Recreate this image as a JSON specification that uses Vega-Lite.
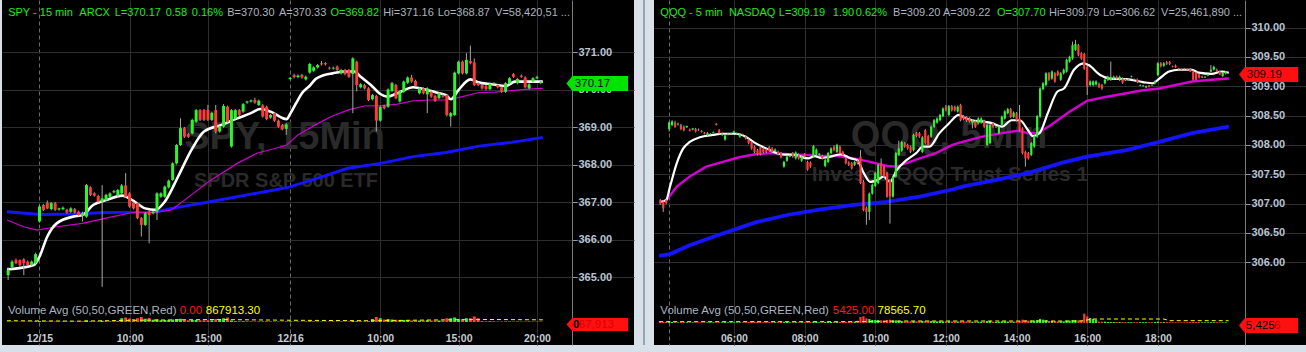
{
"$schema":"https://vega.github.io/schema/vega-lite/v6.json",
"background":"#d8e1ea",
"padding":{"left":0,"top":0,"right":0,"bottom":7},
"spacing":9.5,
"bounds":"flush",
"config":{"view":{"fill":"#000000","stroke":null},"text":{"font":"Liberation Sans"},"axis":{"labelFont":"Liberation Sans"}},
"datasets":{
"spy":[
{"i":-8,"o":365.05,"h":365.26,"l":364.92,"c":365.19,"v":150},
{"i":-7,"o":365.26,"h":365.45,"l":365.23,"c":365.41,"v":150},
{"i":-6,"o":365.45,"h":365.49,"l":365.34,"c":365.37,"v":150},
{"i":-5,"o":365.45,"h":365.47,"l":365.28,"c":365.32,"v":150},
{"i":-4,"o":365.47,"h":365.5,"l":365.05,"c":365.37,"v":200},
{"i":-3,"o":365.41,"h":365.44,"l":365.29,"c":365.32,"v":150},
{"i":-2,"o":365.32,"h":365.44,"l":365.29,"c":365.41,"v":150},
{"i":-1,"o":365.37,"h":365.65,"l":365.34,"c":365.61,"v":200},
{"i":0,"o":366.48,"h":366.92,"l":366.45,"c":366.88,"v":400},
{"i":1,"o":366.92,"h":366.95,"l":366.76,"c":366.79,"v":250},
{"i":2,"o":366.98,"h":367.04,"l":366.81,"c":366.83,"v":250},
{"i":3,"o":366.81,"h":367.0,"l":366.78,"c":366.97,"v":200},
{"i":4,"o":366.97,"h":367.0,"l":366.76,"c":366.79,"v":200},
{"i":5,"o":366.8,"h":366.85,"l":366.77,"c":366.83,"v":150},
{"i":6,"o":366.81,"h":366.88,"l":366.78,"c":366.85,"v":150},
{"i":7,"o":366.79,"h":366.82,"l":366.69,"c":366.72,"v":150},
{"i":8,"o":366.74,"h":366.86,"l":366.71,"c":366.83,"v":150},
{"i":9,"o":366.81,"h":366.84,"l":366.69,"c":366.72,"v":150},
{"i":10,"o":366.74,"h":366.77,"l":366.62,"c":366.65,"v":200},
{"i":11,"o":366.63,"h":366.74,"l":366.48,"c":366.71,"v":200},
{"i":12,"o":366.61,"h":367.48,"l":366.58,"c":367.45,"v":600},
{"i":13,"o":367.39,"h":367.42,"l":367.16,"c":367.19,"v":300},
{"i":14,"o":367.23,"h":367.26,"l":367.14,"c":367.17,"v":250},
{"i":15,"o":367.16,"h":367.19,"l":366.98,"c":367.01,"v":250},
{"i":16,"o":367.01,"h":367.45,"l":364.74,"c":367.1,"v":500},
{"i":17,"o":367.05,"h":367.22,"l":367.02,"c":367.19,"v":250},
{"i":18,"o":367.14,"h":367.26,"l":367.11,"c":367.23,"v":250},
{"i":19,"o":367.26,"h":367.32,"l":367.23,"c":367.29,"v":250},
{"i":20,"o":367.17,"h":367.35,"l":367.14,"c":367.32,"v":300},
{"i":21,"o":367.23,"h":367.48,"l":367.2,"c":367.44,"v":1500},
{"i":22,"o":367.44,"h":367.77,"l":367.11,"c":367.14,"v":1800},
{"i":23,"o":367.23,"h":367.26,"l":366.85,"c":366.88,"v":1400},
{"i":24,"o":366.98,"h":367.01,"l":366.8,"c":366.83,"v":1200},
{"i":25,"o":366.97,"h":367.0,"l":366.54,"c":366.57,"v":1500},
{"i":26,"o":366.57,"h":366.6,"l":366.08,"c":366.39,"v":2000},
{"i":27,"o":366.39,"h":366.73,"l":366.36,"c":366.7,"v":1300},
{"i":28,"o":366.74,"h":366.77,"l":365.9,"c":366.65,"v":1600},
{"i":29,"o":366.7,"h":366.77,"l":366.67,"c":366.74,"v":900},
{"i":30,"o":366.74,"h":367.26,"l":366.52,"c":367.23,"v":1100},
{"i":31,"o":367.14,"h":367.26,"l":367.11,"c":367.23,"v":700},
{"i":32,"o":367.14,"h":367.44,"l":367.11,"c":367.41,"v":800},
{"i":33,"o":367.39,"h":367.6,"l":367.36,"c":367.57,"v":800},
{"i":34,"o":367.59,"h":368.06,"l":367.56,"c":368.03,"v":1000},
{"i":35,"o":368.03,"h":368.55,"l":368.0,"c":368.52,"v":1100},
{"i":36,"o":368.52,"h":369.23,"l":368.49,"c":368.97,"v":1300},
{"i":37,"o":368.97,"h":369.0,"l":368.71,"c":368.74,"v":900},
{"i":38,"o":368.81,"h":368.84,"l":368.71,"c":368.74,"v":700},
{"i":39,"o":368.83,"h":369.22,"l":368.8,"c":369.19,"v":800},
{"i":40,"o":369.14,"h":369.48,"l":369.11,"c":369.45,"v":800},
{"i":41,"o":369.45,"h":369.48,"l":369.16,"c":369.19,"v":700},
{"i":42,"o":369.45,"h":369.48,"l":369.16,"c":369.19,"v":700},
{"i":43,"o":369.45,"h":369.59,"l":369.16,"c":369.19,"v":700},
{"i":44,"o":369.19,"h":369.41,"l":369.16,"c":369.38,"v":700},
{"i":45,"o":369.45,"h":369.59,"l":368.83,"c":368.88,"v":1200},
{"i":46,"o":368.88,"h":369.04,"l":368.85,"c":369.01,"v":1000},
{"i":47,"o":369.01,"h":369.61,"l":368.98,"c":369.56,"v":1500},
{"i":48,"o":369.54,"h":369.57,"l":369.11,"c":369.14,"v":1800},
{"i":49,"o":368.48,"h":369.48,"l":368.45,"c":369.45,"v":600},
{"i":50,"o":369.23,"h":369.48,"l":369.2,"c":369.45,"v":300},
{"i":51,"o":369.45,"h":369.48,"l":369.29,"c":369.32,"v":300},
{"i":52,"o":369.41,"h":369.64,"l":369.38,"c":369.61,"v":300},
{"i":53,"o":369.65,"h":369.7,"l":369.62,"c":369.68,"v":200},
{"i":54,"o":369.68,"h":369.73,"l":369.65,"c":369.71,"v":200},
{"i":55,"o":369.72,"h":369.78,"l":369.62,"c":369.65,"v":200},
{"i":56,"o":369.59,"h":369.73,"l":369.56,"c":369.7,"v":200},
{"i":57,"o":369.58,"h":369.61,"l":369.25,"c":369.28,"v":300},
{"i":58,"o":369.54,"h":369.57,"l":369.18,"c":369.21,"v":300},
{"i":59,"o":369.25,"h":369.35,"l":369.22,"c":369.32,"v":200},
{"i":60,"o":369.37,"h":369.4,"l":369.14,"c":369.17,"v":200},
{"i":61,"o":369.17,"h":369.2,"l":368.98,"c":369.01,"v":200},
{"i":62,"o":369.05,"h":369.08,"l":368.91,"c":368.94,"v":200},
{"i":63,"o":368.95,"h":369.1,"l":368.79,"c":369.07,"v":200},
{"i":64,"o":370.28,"h":370.33,"l":370.26,"c":370.31,"v":300},
{"i":65,"o":370.39,"h":370.42,"l":370.3,"c":370.33,"v":200},
{"i":66,"o":370.33,"h":370.4,"l":370.3,"c":370.37,"v":200},
{"i":67,"o":370.39,"h":370.42,"l":370.29,"c":370.32,"v":200},
{"i":68,"o":370.27,"h":370.37,"l":370.24,"c":370.34,"v":200},
{"i":69,"o":370.45,"h":370.71,"l":370.42,"c":370.68,"v":300},
{"i":70,"o":370.5,"h":370.62,"l":370.47,"c":370.59,"v":200},
{"i":71,"o":370.59,"h":370.68,"l":370.56,"c":370.65,"v":200},
{"i":72,"o":370.7,"h":370.76,"l":370.64,"c":370.67,"v":200},
{"i":73,"o":370.7,"h":370.73,"l":370.64,"c":370.67,"v":200},
{"i":74,"o":370.58,"h":370.61,"l":370.53,"c":370.56,"v":200},
{"i":75,"o":370.56,"h":370.61,"l":370.53,"c":370.58,"v":200},
{"i":76,"o":370.61,"h":370.64,"l":370.49,"c":370.52,"v":200},
{"i":77,"o":370.43,"h":370.55,"l":370.4,"c":370.52,"v":200},
{"i":78,"o":370.52,"h":370.55,"l":370.38,"c":370.41,"v":200},
{"i":79,"o":370.52,"h":370.55,"l":370.31,"c":370.34,"v":250},
{"i":80,"o":370.41,"h":370.86,"l":369.37,"c":370.83,"v":400},
{"i":81,"o":370.74,"h":370.77,"l":369.95,"c":370.12,"v":400},
{"i":82,"o":370.06,"h":370.17,"l":370.03,"c":370.14,"v":250},
{"i":83,"o":370.12,"h":370.15,"l":370.0,"c":370.03,"v":250},
{"i":84,"o":370.03,"h":370.06,"l":369.69,"c":369.72,"v":400},
{"i":85,"o":369.74,"h":369.88,"l":369.71,"c":369.85,"v":1200},
{"i":86,"o":369.83,"h":369.86,"l":368.88,"c":369.17,"v":2000},
{"i":87,"o":369.17,"h":369.57,"l":369.14,"c":369.54,"v":1500},
{"i":88,"o":369.56,"h":369.59,"l":369.47,"c":369.5,"v":1000},
{"i":89,"o":369.54,"h":370.03,"l":369.51,"c":370.0,"v":1200},
{"i":90,"o":369.96,"h":370.2,"l":369.93,"c":370.17,"v":1000},
{"i":91,"o":370.12,"h":370.15,"l":369.74,"c":369.77,"v":900},
{"i":92,"o":369.68,"h":369.99,"l":369.65,"c":369.96,"v":800},
{"i":93,"o":369.94,"h":370.24,"l":369.91,"c":370.21,"v":800},
{"i":94,"o":370.18,"h":370.35,"l":370.15,"c":370.32,"v":700},
{"i":95,"o":370.32,"h":370.39,"l":370.18,"c":370.21,"v":600},
{"i":96,"o":370.23,"h":370.26,"l":370.07,"c":370.1,"v":600},
{"i":97,"o":369.9,"h":370.06,"l":369.87,"c":370.03,"v":600},
{"i":98,"o":370.03,"h":370.06,"l":369.87,"c":369.9,"v":600},
{"i":99,"o":369.87,"h":370.06,"l":369.37,"c":370.03,"v":700},
{"i":100,"o":369.94,"h":369.97,"l":369.78,"c":369.81,"v":600},
{"i":101,"o":369.83,"h":369.86,"l":369.67,"c":369.7,"v":600},
{"i":102,"o":369.77,"h":369.93,"l":369.74,"c":369.9,"v":600},
{"i":103,"o":369.85,"h":369.88,"l":369.78,"c":369.81,"v":600},
{"i":104,"o":369.85,"h":369.88,"l":369.28,"c":369.32,"v":1500},
{"i":105,"o":369.28,"h":369.4,"l":369.01,"c":369.37,"v":1500},
{"i":106,"o":369.32,"h":370.48,"l":369.29,"c":370.45,"v":1800},
{"i":107,"o":370.43,"h":370.77,"l":370.4,"c":370.74,"v":1200},
{"i":108,"o":370.74,"h":370.77,"l":370.4,"c":370.43,"v":1200},
{"i":109,"o":370.43,"h":370.97,"l":370.4,"c":370.79,"v":1500},
{"i":110,"o":370.76,"h":371.17,"l":370.67,"c":370.7,"v":1500},
{"i":111,"o":370.72,"h":370.83,"l":370.09,"c":370.12,"v":2200},
{"i":112,"o":370.17,"h":370.2,"l":370.09,"c":370.12,"v":1500},
{"i":113,"o":370.12,"h":370.15,"l":370.0,"c":370.03,"v":400},
{"i":114,"o":370.09,"h":370.12,"l":369.98,"c":370.01,"v":300},
{"i":115,"o":370.01,"h":370.18,"l":369.98,"c":370.15,"v":300},
{"i":116,"o":370.15,"h":370.19,"l":370.13,"c":370.18,"v":200},
{"i":117,"o":370.12,"h":370.15,"l":370.03,"c":370.06,"v":200},
{"i":118,"o":370.06,"h":370.09,"l":369.91,"c":369.94,"v":200},
{"i":119,"o":369.94,"h":370.2,"l":369.91,"c":370.17,"v":200},
{"i":120,"o":370.17,"h":370.33,"l":370.14,"c":370.3,"v":200},
{"i":121,"o":370.41,"h":370.44,"l":370.31,"c":370.34,"v":200},
{"i":122,"o":370.17,"h":370.31,"l":370.14,"c":370.28,"v":200},
{"i":123,"o":370.37,"h":370.4,"l":370.31,"c":370.34,"v":200},
{"i":124,"o":370.32,"h":370.35,"l":370.03,"c":370.06,"v":200},
{"i":125,"o":370.03,"h":370.17,"l":370.0,"c":370.14,"v":200},
{"i":126,"o":370.21,"h":370.33,"l":370.18,"c":370.3,"v":150},
{"i":127,"o":370.3,"h":370.37,"l":370.28,"c":370.33,"v":150},
{"i":128,"o":370.17,"h":370.24,"l":370.14,"c":370.21,"v":150}
],
"spyW":[
{"i":-8.3,"p":365.2},{"i":-1.4,"p":365.32},{"i":0,"p":365.54},{"i":2,"p":366.08},{"i":4.4,"p":366.43},{"i":8.6,"p":366.61},{"i":11,"p":366.65},{"i":13.7,"p":366.92},{"i":17,"p":367.05},{"i":21.2,"p":367.17},{"i":23.7,"p":367.05},{"i":27,"p":366.83},{"i":29.6,"p":366.79},{"i":32,"p":367.01},{"i":35.4,"p":367.68},{"i":38.8,"p":368.39},{"i":42,"p":368.88},{"i":46.3,"p":369.05},{"i":50.5,"p":369.23},{"i":54,"p":369.37},{"i":56.4,"p":369.48},{"i":59,"p":369.41},{"i":63.1,"p":369.21},{"i":64,"p":369.35},{"i":65.6,"p":369.65},{"i":67,"p":369.9},{"i":69,"p":370.1},{"i":70.5,"p":370.28},{"i":72.5,"p":370.38},{"i":74.8,"p":370.43},{"i":78,"p":370.48},{"i":80.4,"p":370.48},{"i":82,"p":370.34},{"i":84.6,"p":370.12},{"i":87,"p":369.88},{"i":88.8,"p":369.81},{"i":91.4,"p":369.9},{"i":95.4,"p":370.06},{"i":98.8,"p":369.99},{"i":101.3,"p":369.92},{"i":103.8,"p":369.85},{"i":105,"p":369.74},{"i":107,"p":369.99},{"i":110,"p":370.27},{"i":112,"p":370.19},{"i":115.5,"p":370.14},{"i":119,"p":370.09},{"i":121.4,"p":370.21},{"i":124.7,"p":370.21},{"i":128.5,"p":370.21}
],
"spyM":[
{"i":-8.3,"p":366.52},{"i":-4,"p":366.34},{"i":-0.6,"p":366.25},{"i":4.4,"p":366.34},{"i":11,"p":366.43},{"i":17,"p":366.57},{"i":23.7,"p":366.72},{"i":29.6,"p":366.72},{"i":33.7,"p":366.79},{"i":38.8,"p":367.19},{"i":43.8,"p":367.59},{"i":50.5,"p":368.03},{"i":55.5,"p":368.3},{"i":62,"p":368.48},{"i":63.1,"p":368.52},{"i":66,"p":368.79},{"i":70.3,"p":369.05},{"i":74.5,"p":369.28},{"i":78.7,"p":369.45},{"i":82.9,"p":369.56},{"i":87.1,"p":369.57},{"i":91.4,"p":369.61},{"i":95.4,"p":369.7},{"i":99.6,"p":369.72},{"i":103.8,"p":369.72},{"i":108,"p":369.81},{"i":112.2,"p":369.92},{"i":116.3,"p":369.93},{"i":120.5,"p":369.97},{"i":124.7,"p":370.01},{"i":128.5,"p":370.03}
],
"spyB":[
{"i":-8.3,"p":366.74},{"i":0.3,"p":366.67},{"i":8.6,"p":366.68},{"i":17,"p":366.72},{"i":29.6,"p":366.73},{"i":33.7,"p":366.83},{"i":42.1,"p":366.98},{"i":50.5,"p":367.14},{"i":58.9,"p":367.3},{"i":63.5,"p":367.39},{"i":70.3,"p":367.61},{"i":78.7,"p":367.9},{"i":87.1,"p":368.03},{"i":95.4,"p":368.21},{"i":103.8,"p":368.32},{"i":112.2,"p":368.49},{"i":120.5,"p":368.59},{"i":128.5,"p":368.72}
],
"spyVA":[
{"i":-8.3,"a":500},{"i":10,"a":350},{"i":25,"a":700},{"i":45,"a":1000},{"i":64,"a":700},{"i":85,"a":500},{"i":100,"a":800},{"i":115,"a":1000},{"i":128.5,"a":868}
],
"qqq":[
{"i":-3,"o":307.06,"h":307.08,"l":306.98,"c":307.0,"v":30},
{"i":-2,"o":307.03,"h":307.06,"l":306.86,"c":306.92,"v":30},
{"i":-1,"o":307.06,"h":307.08,"l":306.99,"c":307.01,"v":30},
{"i":0,"o":308.27,"h":308.4,"l":308.23,"c":308.38,"v":60},
{"i":1,"o":308.34,"h":308.42,"l":308.32,"c":308.4,"v":30},
{"i":2,"o":308.38,"h":308.41,"l":308.29,"c":308.31,"v":25},
{"i":3,"o":308.35,"h":308.38,"l":308.33,"c":308.36,"v":20},
{"i":4,"o":308.34,"h":308.36,"l":308.25,"c":308.27,"v":25},
{"i":5,"o":308.31,"h":308.33,"l":308.23,"c":308.25,"v":25},
{"i":6,"o":308.3,"h":308.33,"l":308.29,"c":308.32,"v":20},
{"i":7,"o":308.26,"h":308.28,"l":308.23,"c":308.24,"v":20},
{"i":8,"o":308.26,"h":308.29,"l":308.25,"c":308.28,"v":20},
{"i":9,"o":308.27,"h":308.29,"l":308.21,"c":308.23,"v":20},
{"i":10,"o":308.26,"h":308.28,"l":308.24,"c":308.25,"v":20},
{"i":11,"o":308.24,"h":308.25,"l":308.21,"c":308.22,"v":20},
{"i":12,"o":308.21,"h":308.22,"l":308.18,"c":308.19,"v":20},
{"i":13,"o":308.17,"h":308.22,"l":308.15,"c":308.2,"v":20},
{"i":14,"o":308.18,"h":308.2,"l":308.17,"c":308.19,"v":20},
{"i":15,"o":308.21,"h":308.23,"l":308.2,"c":308.22,"v":20},
{"i":16,"o":308.36,"h":308.37,"l":308.33,"c":308.34,"v":20},
{"i":17,"o":308.25,"h":308.27,"l":308.18,"c":308.2,"v":20},
{"i":18,"o":308.17,"h":308.21,"l":308.15,"c":308.19,"v":20},
{"i":19,"o":308.09,"h":308.18,"l":308.07,"c":308.16,"v":25},
{"i":20,"o":308.18,"h":308.2,"l":308.16,"c":308.19,"v":20},
{"i":21,"o":308.19,"h":308.21,"l":308.18,"c":308.2,"v":20},
{"i":22,"o":308.21,"h":308.24,"l":308.2,"c":308.23,"v":20},
{"i":23,"o":308.19,"h":308.21,"l":308.18,"c":308.2,"v":20},
{"i":24,"o":308.14,"h":308.2,"l":308.12,"c":308.18,"v":20},
{"i":25,"o":308.18,"h":308.19,"l":308.16,"c":308.17,"v":20},
{"i":26,"o":308.14,"h":308.16,"l":308.09,"c":308.11,"v":25},
{"i":27,"o":308.09,"h":308.11,"l":308.01,"c":308.03,"v":30},
{"i":28,"o":308.05,"h":308.07,"l":307.92,"c":307.94,"v":40},
{"i":29,"o":307.97,"h":307.99,"l":307.86,"c":307.88,"v":40},
{"i":30,"o":307.91,"h":307.93,"l":307.82,"c":307.84,"v":30},
{"i":31,"o":307.96,"h":307.98,"l":307.82,"c":307.84,"v":30},
{"i":32,"o":307.94,"h":307.96,"l":307.86,"c":307.88,"v":25},
{"i":33,"o":307.92,"h":307.94,"l":307.86,"c":307.88,"v":25},
{"i":34,"o":307.96,"h":307.98,"l":307.88,"c":307.9,"v":25},
{"i":35,"o":307.94,"h":307.96,"l":307.86,"c":307.88,"v":25},
{"i":36,"o":307.9,"h":307.94,"l":307.88,"c":307.92,"v":25},
{"i":37,"o":307.88,"h":307.9,"l":307.82,"c":307.84,"v":25},
{"i":38,"o":307.86,"h":307.88,"l":307.77,"c":307.79,"v":30},
{"i":39,"o":307.63,"h":307.73,"l":307.61,"c":307.71,"v":35},
{"i":40,"o":307.73,"h":307.82,"l":307.71,"c":307.8,"v":30},
{"i":41,"o":307.8,"h":307.83,"l":307.79,"c":307.82,"v":20},
{"i":42,"o":307.86,"h":307.88,"l":307.78,"c":307.8,"v":25},
{"i":43,"o":307.77,"h":307.89,"l":307.75,"c":307.87,"v":25},
{"i":44,"o":307.83,"h":307.85,"l":307.75,"c":307.77,"v":25},
{"i":45,"o":307.73,"h":307.82,"l":307.71,"c":307.8,"v":25},
{"i":46,"o":307.84,"h":307.86,"l":307.78,"c":307.8,"v":25},
{"i":47,"o":307.71,"h":307.73,"l":307.56,"c":307.58,"v":35},
{"i":48,"o":307.7,"h":307.72,"l":307.61,"c":307.63,"v":30},
{"i":49,"o":307.8,"h":308.0,"l":307.78,"c":307.98,"v":40},
{"i":50,"o":307.84,"h":307.94,"l":307.82,"c":307.92,"v":30},
{"i":51,"o":307.83,"h":307.86,"l":307.82,"c":307.85,"v":20},
{"i":52,"o":307.81,"h":307.83,"l":307.75,"c":307.77,"v":25},
{"i":53,"o":307.64,"h":307.76,"l":307.62,"c":307.74,"v":30},
{"i":54,"o":307.71,"h":307.88,"l":307.69,"c":307.86,"v":30},
{"i":55,"o":307.86,"h":307.96,"l":307.84,"c":307.94,"v":30},
{"i":56,"o":307.97,"h":307.99,"l":307.89,"c":307.91,"v":30},
{"i":57,"o":307.88,"h":308.02,"l":307.86,"c":308.0,"v":30},
{"i":58,"o":307.97,"h":307.99,"l":307.84,"c":307.86,"v":30},
{"i":59,"o":307.88,"h":307.9,"l":307.81,"c":307.83,"v":30},
{"i":60,"o":307.77,"h":307.79,"l":307.67,"c":307.69,"v":35},
{"i":61,"o":307.7,"h":307.72,"l":307.64,"c":307.66,"v":30},
{"i":62,"o":307.69,"h":307.71,"l":307.58,"c":307.6,"v":35},
{"i":63,"o":307.66,"h":307.73,"l":307.64,"c":307.71,"v":40},
{"i":64,"o":307.73,"h":307.75,"l":307.67,"c":307.69,"v":70},
{"i":65,"o":307.8,"h":307.91,"l":307.33,"c":307.35,"v":180},
{"i":66,"o":307.37,"h":307.4,"l":306.87,"c":306.89,"v":200},
{"i":67,"o":306.92,"h":306.95,"l":306.64,"c":306.86,"v":140},
{"i":68,"o":306.86,"h":307.19,"l":306.72,"c":307.17,"v":120},
{"i":69,"o":307.17,"h":307.34,"l":307.15,"c":307.32,"v":90},
{"i":70,"o":307.3,"h":307.54,"l":307.28,"c":307.52,"v":90},
{"i":71,"o":307.35,"h":307.68,"l":307.33,"c":307.66,"v":90},
{"i":72,"o":307.67,"h":307.77,"l":307.47,"c":307.49,"v":80},
{"i":73,"o":307.63,"h":307.65,"l":307.44,"c":307.46,"v":70},
{"i":74,"o":307.52,"h":307.54,"l":307.1,"c":307.12,"v":90},
{"i":75,"o":307.4,"h":307.42,"l":306.66,"c":307.12,"v":100},
{"i":76,"o":307.12,"h":307.48,"l":307.1,"c":307.46,"v":80},
{"i":77,"o":307.46,"h":307.88,"l":307.44,"c":307.86,"v":80},
{"i":78,"o":307.83,"h":308.07,"l":307.81,"c":307.94,"v":70},
{"i":79,"o":307.9,"h":308.07,"l":307.88,"c":308.05,"v":60},
{"i":80,"o":308.03,"h":308.05,"l":307.95,"c":307.97,"v":50},
{"i":81,"o":308.0,"h":308.02,"l":307.92,"c":307.94,"v":50},
{"i":82,"o":307.97,"h":307.99,"l":307.86,"c":307.88,"v":50},
{"i":83,"o":307.91,"h":308.19,"l":307.89,"c":308.17,"v":60},
{"i":84,"o":308.2,"h":308.22,"l":308.13,"c":308.15,"v":50},
{"i":85,"o":308.2,"h":308.22,"l":308.12,"c":308.14,"v":50},
{"i":86,"o":307.88,"h":308.15,"l":307.86,"c":308.13,"v":60},
{"i":87,"o":308.25,"h":308.27,"l":308.01,"c":308.03,"v":60},
{"i":88,"o":308.15,"h":308.17,"l":307.98,"c":308.0,"v":50},
{"i":89,"o":308.14,"h":308.33,"l":308.12,"c":308.31,"v":60},
{"i":90,"o":308.31,"h":308.44,"l":308.29,"c":308.42,"v":50},
{"i":91,"o":308.38,"h":308.47,"l":308.36,"c":308.45,"v":50},
{"i":92,"o":308.42,"h":308.53,"l":308.4,"c":308.51,"v":50},
{"i":93,"o":308.49,"h":308.64,"l":308.47,"c":308.62,"v":50},
{"i":94,"o":308.65,"h":308.68,"l":308.57,"c":308.59,"v":50},
{"i":95,"o":308.51,"h":308.68,"l":308.49,"c":308.66,"v":50},
{"i":96,"o":308.66,"h":308.68,"l":308.57,"c":308.59,"v":45},
{"i":97,"o":308.65,"h":308.67,"l":308.57,"c":308.59,"v":45},
{"i":98,"o":308.57,"h":308.67,"l":308.55,"c":308.65,"v":45},
{"i":99,"o":308.68,"h":308.7,"l":308.4,"c":308.42,"v":50},
{"i":100,"o":308.49,"h":308.51,"l":308.42,"c":308.44,"v":45},
{"i":101,"o":308.47,"h":308.49,"l":308.39,"c":308.41,"v":45},
{"i":102,"o":308.45,"h":308.47,"l":308.38,"c":308.4,"v":40},
{"i":103,"o":308.37,"h":308.44,"l":308.28,"c":308.42,"v":40},
{"i":104,"o":308.4,"h":308.42,"l":308.29,"c":308.31,"v":40},
{"i":105,"o":308.37,"h":308.47,"l":308.35,"c":308.45,"v":40},
{"i":106,"o":308.38,"h":308.47,"l":308.36,"c":308.45,"v":40},
{"i":107,"o":308.41,"h":308.43,"l":308.29,"c":308.31,"v":40},
{"i":108,"o":308.0,"h":308.36,"l":307.98,"c":308.34,"v":60},
{"i":109,"o":308.03,"h":308.36,"l":308.01,"c":308.34,"v":60},
{"i":110,"o":308.37,"h":308.39,"l":308.29,"c":308.31,"v":40},
{"i":111,"o":308.3,"h":308.32,"l":308.29,"c":308.31,"v":30},
{"i":112,"o":308.2,"h":308.33,"l":308.18,"c":308.31,"v":40},
{"i":113,"o":308.34,"h":308.5,"l":308.32,"c":308.48,"v":50},
{"i":114,"o":308.45,"h":308.59,"l":308.43,"c":308.57,"v":50},
{"i":115,"o":308.54,"h":308.63,"l":308.52,"c":308.61,"v":45},
{"i":116,"o":308.61,"h":308.63,"l":308.46,"c":308.48,"v":45},
{"i":117,"o":308.48,"h":308.57,"l":308.46,"c":308.55,"v":40},
{"i":118,"o":308.54,"h":308.56,"l":308.4,"c":308.42,"v":45},
{"i":119,"o":308.45,"h":308.68,"l":308.23,"c":308.25,"v":60},
{"i":120,"o":308.28,"h":308.3,"l":307.84,"c":307.86,"v":100},
{"i":121,"o":307.88,"h":307.9,"l":307.63,"c":307.77,"v":80},
{"i":122,"o":307.86,"h":307.88,"l":307.75,"c":307.77,"v":70},
{"i":123,"o":307.83,"h":308.05,"l":307.81,"c":308.03,"v":70},
{"i":124,"o":307.97,"h":308.17,"l":307.95,"c":308.15,"v":70},
{"i":125,"o":308.14,"h":308.51,"l":308.12,"c":308.49,"v":90},
{"i":126,"o":308.48,"h":308.98,"l":308.46,"c":308.96,"v":120},
{"i":127,"o":308.95,"h":309.07,"l":308.93,"c":309.05,"v":100},
{"i":128,"o":309.02,"h":309.24,"l":309.0,"c":309.22,"v":80},
{"i":129,"o":309.22,"h":309.24,"l":309.09,"c":309.11,"v":60},
{"i":130,"o":309.13,"h":309.27,"l":309.11,"c":309.25,"v":60},
{"i":131,"o":309.22,"h":309.24,"l":309.06,"c":309.08,"v":60},
{"i":132,"o":309.25,"h":309.27,"l":309.17,"c":309.19,"v":50},
{"i":133,"o":309.11,"h":309.24,"l":309.09,"c":309.22,"v":50},
{"i":134,"o":309.22,"h":309.3,"l":309.2,"c":309.28,"v":50},
{"i":135,"o":309.25,"h":309.47,"l":309.23,"c":309.45,"v":70},
{"i":136,"o":309.42,"h":309.52,"l":309.4,"c":309.5,"v":70},
{"i":137,"o":309.47,"h":309.76,"l":309.45,"c":309.7,"v":90},
{"i":138,"o":309.62,"h":309.79,"l":309.6,"c":309.72,"v":90},
{"i":139,"o":309.7,"h":309.72,"l":309.51,"c":309.53,"v":80},
{"i":140,"o":309.56,"h":309.58,"l":309.45,"c":309.47,"v":80},
{"i":141,"o":309.55,"h":309.57,"l":309.28,"c":309.3,"v":280},
{"i":142,"o":309.33,"h":309.35,"l":308.85,"c":308.99,"v":200},
{"i":143,"o":309.02,"h":309.1,"l":309.0,"c":309.08,"v":150},
{"i":144,"o":309.02,"h":309.1,"l":309.0,"c":309.08,"v":120},
{"i":145,"o":309.03,"h":309.1,"l":309.01,"c":309.08,"v":100},
{"i":146,"o":309.04,"h":309.06,"l":308.97,"c":308.99,"v":40},
{"i":147,"o":309.02,"h":309.04,"l":308.94,"c":308.96,"v":40},
{"i":148,"o":309.05,"h":309.13,"l":309.03,"c":309.11,"v":40},
{"i":149,"o":309.11,"h":309.18,"l":309.09,"c":309.16,"v":30},
{"i":150,"o":309.11,"h":309.42,"l":309.09,"c":309.15,"v":30},
{"i":151,"o":309.13,"h":309.18,"l":309.11,"c":309.16,"v":30},
{"i":152,"o":309.16,"h":309.18,"l":309.11,"c":309.13,"v":30},
{"i":153,"o":309.11,"h":309.18,"l":309.09,"c":309.16,"v":30},
{"i":154,"o":309.13,"h":309.15,"l":309.04,"c":309.06,"v":30},
{"i":155,"o":309.12,"h":309.13,"l":309.09,"c":309.1,"v":25},
{"i":156,"o":309.11,"h":309.13,"l":309.1,"c":309.12,"v":25},
{"i":157,"o":309.16,"h":309.18,"l":309.15,"c":309.17,"v":25},
{"i":158,"o":309.12,"h":309.13,"l":309.1,"c":309.11,"v":25},
{"i":159,"o":309.11,"h":309.13,"l":309.05,"c":309.07,"v":25},
{"i":160,"o":309.01,"h":309.03,"l":309.0,"c":309.02,"v":25},
{"i":161,"o":309.0,"h":309.02,"l":308.99,"c":309.01,"v":25},
{"i":162,"o":308.98,"h":309.01,"l":308.97,"c":309.0,"v":25},
{"i":163,"o":309.01,"h":309.02,"l":308.98,"c":308.99,"v":25},
{"i":164,"o":309.02,"h":309.03,"l":309.0,"c":309.01,"v":25},
{"i":165,"o":309.05,"h":309.1,"l":309.03,"c":309.08,"v":30},
{"i":166,"o":309.19,"h":309.41,"l":309.17,"c":309.39,"v":40},
{"i":167,"o":309.39,"h":309.41,"l":309.32,"c":309.34,"v":30},
{"i":168,"o":309.35,"h":309.41,"l":309.33,"c":309.39,"v":30},
{"i":169,"o":309.41,"h":309.43,"l":309.36,"c":309.38,"v":25},
{"i":170,"o":309.41,"h":309.43,"l":309.36,"c":309.38,"v":25},
{"i":171,"o":309.34,"h":309.35,"l":309.32,"c":309.33,"v":20},
{"i":172,"o":309.35,"h":309.37,"l":309.31,"c":309.32,"v":20},
{"i":173,"o":309.3,"h":309.31,"l":309.28,"c":309.29,"v":20},
{"i":174,"o":309.29,"h":309.3,"l":309.27,"c":309.28,"v":20},
{"i":175,"o":309.3,"h":309.31,"l":309.28,"c":309.29,"v":20},
{"i":176,"o":309.29,"h":309.3,"l":309.27,"c":309.28,"v":20},
{"i":177,"o":309.29,"h":309.31,"l":309.24,"c":309.25,"v":25},
{"i":178,"o":309.25,"h":309.27,"l":309.1,"c":309.11,"v":30},
{"i":179,"o":309.23,"h":309.25,"l":309.1,"c":309.11,"v":30},
{"i":180,"o":309.2,"h":309.22,"l":309.13,"c":309.15,"v":25},
{"i":181,"o":309.15,"h":309.18,"l":309.14,"c":309.16,"v":20},
{"i":182,"o":309.15,"h":309.17,"l":309.14,"c":309.16,"v":20},
{"i":183,"o":309.18,"h":309.21,"l":309.17,"c":309.2,"v":20},
{"i":184,"o":309.25,"h":309.36,"l":309.24,"c":309.28,"v":25},
{"i":185,"o":309.28,"h":309.35,"l":309.27,"c":309.33,"v":25},
{"i":186,"o":309.28,"h":309.3,"l":309.24,"c":309.25,"v":20},
{"i":187,"o":309.25,"h":309.26,"l":309.19,"c":309.2,"v":20},
{"i":188,"o":309.17,"h":309.24,"l":309.16,"c":309.23,"v":20},
{"i":189,"o":309.22,"h":309.26,"l":309.2,"c":309.25,"v":20}
],
"qqqW":[
{"i":-3,"p":307.03},{"i":-1,"p":307.06},{"i":0.3,"p":307.29},{"i":2.6,"p":307.69},{"i":4.8,"p":307.94},{"i":7,"p":308.05},{"i":10.4,"p":308.13},{"i":14.8,"p":308.17},{"i":18.2,"p":308.19},{"i":22.6,"p":308.19},{"i":26,"p":308.14},{"i":29.3,"p":308.03},{"i":33.8,"p":307.92},{"i":38.2,"p":307.84},{"i":42.7,"p":307.83},{"i":47.2,"p":307.77},{"i":49.4,"p":307.81},{"i":51.6,"p":307.78},{"i":53.8,"p":307.79},{"i":58.3,"p":307.84},{"i":61.7,"p":307.77},{"i":63.9,"p":307.74},{"i":66.1,"p":307.52},{"i":68.3,"p":307.37},{"i":70.6,"p":307.4},{"i":72.8,"p":307.46},{"i":75,"p":307.37},{"i":77.3,"p":307.57},{"i":80.6,"p":307.74},{"i":83.9,"p":307.86},{"i":86.2,"p":307.97},{"i":88.4,"p":307.97},{"i":91.8,"p":308.2},{"i":95.1,"p":308.37},{"i":98.4,"p":308.51},{"i":99.6,"p":308.48},{"i":102.9,"p":308.42},{"i":106.3,"p":308.4},{"i":109.6,"p":308.37},{"i":113,"p":308.31},{"i":116.3,"p":308.42},{"i":119.1,"p":308.42},{"i":121.9,"p":308.25},{"i":123.5,"p":308.15},{"i":125.8,"p":308.2},{"i":128.6,"p":308.54},{"i":131.9,"p":308.91},{"i":134.1,"p":308.96},{"i":137.5,"p":309.28},{"i":140.8,"p":309.39},{"i":142.5,"p":309.36},{"i":146.4,"p":309.19},{"i":149.7,"p":309.13},{"i":155.3,"p":309.12},{"i":160.9,"p":309.07},{"i":164.2,"p":309.05},{"i":166.5,"p":309.13},{"i":169.8,"p":309.25},{"i":173.1,"p":309.28},{"i":177.6,"p":309.28},{"i":179.8,"p":309.23},{"i":184.3,"p":309.21},{"i":187.6,"p":309.25},{"i":190.1,"p":309.23}
],
"qqqM":[
{"i":-3,"p":307.03},{"i":-0.8,"p":307.06},{"i":2.6,"p":307.29},{"i":7,"p":307.46},{"i":12.6,"p":307.63},{"i":18.2,"p":307.71},{"i":23.8,"p":307.79},{"i":29.3,"p":307.84},{"i":34.9,"p":307.86},{"i":40.5,"p":307.84},{"i":46,"p":307.83},{"i":51.6,"p":307.81},{"i":57.2,"p":307.81},{"i":62.8,"p":307.77},{"i":68.3,"p":307.71},{"i":73.9,"p":307.64},{"i":77.3,"p":307.63},{"i":80.6,"p":307.69},{"i":85.1,"p":307.77},{"i":90.6,"p":307.86},{"i":96.2,"p":308.0},{"i":99.6,"p":308.05},{"i":106.3,"p":308.14},{"i":113,"p":308.2},{"i":118.5,"p":308.24},{"i":121.9,"p":308.2},{"i":125.2,"p":308.2},{"i":129.7,"p":308.34},{"i":135.2,"p":308.54},{"i":141.9,"p":308.75},{"i":148.6,"p":308.82},{"i":155.3,"p":308.88},{"i":160.9,"p":308.93},{"i":166.5,"p":308.96},{"i":172,"p":309.02},{"i":177.6,"p":309.08},{"i":184.3,"p":309.11},{"i":190.1,"p":309.13}
],
"qqqB":[
{"i":-3.4,"p":306.11},{"i":0.3,"p":306.14},{"i":7,"p":306.29},{"i":18.2,"p":306.49},{"i":29.3,"p":306.68},{"i":40.5,"p":306.81},{"i":51.6,"p":306.9},{"i":62.8,"p":306.98},{"i":73.9,"p":307.03},{"i":85.1,"p":307.12},{"i":96.2,"p":307.24},{"i":99.6,"p":307.29},{"i":110.7,"p":307.4},{"i":121.9,"p":307.52},{"i":133,"p":307.69},{"i":141.9,"p":307.8},{"i":155.3,"p":307.91},{"i":166.5,"p":308.05},{"i":177.6,"p":308.2},{"i":190.1,"p":308.31}
],
"qqqVA":[
{"i":-3.4,"a":40},{"i":64,"a":40},{"i":80,"a":60},{"i":140,"a":60},{"i":144,"a":120},{"i":168,"a":120},{"i":170,"a":70},{"i":190,"a":70}
]
},
"hconcat":[
{
"width":632,"height":345,
"resolve":{"scale":{"y":"independent"}},
"layer":[
{"layer":[
{"data":{"values":[{}]},"mark":{"type":"text","text":"SPY, 15Min","align":"center","baseline":"middle","fontSize":38,"fontWeight":"bold","color":"#2a2a2a"},"encoding":{"x":{"datum":62.56},"y":{"datum":368.707}}},
{"data":{"values":[{}]},"mark":{"type":"text","text":"SPDR S&P 500 ETF","align":"center","baseline":"middle","fontSize":20,"fontWeight":"bold","color":"#2a2a2a"},"encoding":{"x":{"datum":62.94},"y":{"datum":367.56}}},
{"data":{"name":"spyB"},"mark":{"type":"line","color":"#1414ff","strokeWidth":3},"encoding":{
"x":{"field":"i","type":"quantitative","title":null,"scale":{"domain":[-8.291,150.503],"nice":false,"zero":false},
"axis":{"orient":"bottom","offset":-15,"values":[0,23,43,64,87,107,127],"labelExpr":"datum.value == 0 ? '12/15' : datum.value == 64 ? '12/16' : (datum.value == 23 || datum.value == 87) ? '10:00' : (datum.value == 43 || datum.value == 107) ? '15:00' : '20:00'","grid":true,"gridColor":{"condition":{"test":"datum.value == 0 || datum.value == 64","value":"#6a6a6a"},"value":"#2e2e2e"},"gridDash":{"condition":{"test":"datum.value == 0 || datum.value == 64","value":[4,3]},"value":[]},"domain":false,"ticks":false,"labelColor":"#c4cbd3","labelFontSize":10.5,"labelFontWeight":"bold","labelPadding":3,"labelFlush":false,"labelOverlap":false,"title":null}},
"y":{"field":"p","type":"quantitative","title":null,"scale":{"domain":[363.1867,372.3867],"nice":false,"zero":false},
"axis":{"orient":"right","offset":-62,"values":[365,366,367,368,369,370,371],"format":".2f","grid":true,"gridColor":"#2e2e2e","domain":true,"domainColor":"#7a7a7a","ticks":true,"tickColor":"#9a9a9a","tickSize":5,"labelColor":"#b7c4d3","labelFontSize":11,"labelFontWeight":"bold","labelPadding":1,"labelOverlap":false,"title":null}}}},
{"data":{"name":"spyM"},"mark":{"type":"line","color":"#d000d0","strokeWidth":1.2},"encoding":{"x":{"field":"i","type":"quantitative","title":null},"y":{"field":"p","type":"quantitative","title":null}}},
{"data":{"name":"spyW"},"mark":{"type":"line","color":"#ffffff","strokeWidth":2.6,"interpolate":"monotone"},"encoding":{"x":{"field":"i","type":"quantitative","title":null},"y":{"field":"p","type":"quantitative","title":null}}},
{"data":{"name":"spy"},"mark":{"type":"rule","color":"#a8a8a8","strokeWidth":1},"encoding":{"x":{"field":"i","type":"quantitative","title":null},"y":{"field":"l","type":"quantitative","title":null},"y2":{"field":"h"}}},
{"data":{"name":"spy"},"mark":{"type":"bar","size":3},"encoding":{"x":{"field":"i","type":"quantitative","title":null},"y":{"field":"o","type":"quantitative","title":null},"y2":{"field":"c"},"color":{"condition":{"test":"datum.c >= datum.o","value":"#2cf52c"},"value":"#ff3c3c"}}},
{"data":{"values":[{}]},"mark":{"type":"text","text":"SPY - 15 min","align":"left","baseline":"middle","fontSize":11,"color":"#1eea1e"},"encoding":{"x":{"datum":-7.99},"y":{"datum":372.053}}},
{"data":{"values":[{}]},"mark":{"type":"text","text":"ARCX","align":"left","baseline":"middle","fontSize":11,"color":"#1eea1e"},"encoding":{"x":{"datum":10.18},"y":{"datum":372.053}}},
{"data":{"values":[{}]},"mark":{"type":"text","text":"L=370.17","align":"left","baseline":"middle","fontSize":11,"color":"#1eea1e"},"encoding":{"x":{"datum":19.2},"y":{"datum":372.053}}},
{"data":{"values":[{}]},"mark":{"type":"text","text":"0.58","align":"left","baseline":"middle","fontSize":11,"color":"#1eea1e"},"encoding":{"x":{"datum":32.21},"y":{"datum":372.053}}},
{"data":{"values":[{}]},"mark":{"type":"text","text":"0.16%","align":"left","baseline":"middle","fontSize":11,"color":"#1eea1e"},"encoding":{"x":{"datum":38.89},"y":{"datum":372.053}}},
{"data":{"values":[{}]},"mark":{"type":"text","text":"B=370.30","align":"left","baseline":"middle","fontSize":11,"color":"#aab4be"},"encoding":{"x":{"datum":47.91},"y":{"datum":372.053}}},
{"data":{"values":[{}]},"mark":{"type":"text","text":"A=370.33","align":"left","baseline":"middle","fontSize":11,"color":"#aab4be"},"encoding":{"x":{"datum":61.13},"y":{"datum":372.053}}},
{"data":{"values":[{}]},"mark":{"type":"text","text":"O=369.82","align":"left","baseline":"middle","fontSize":11,"color":"#1eea1e"},"encoding":{"x":{"datum":74.27},"y":{"datum":372.053}}},
{"data":{"values":[{}]},"mark":{"type":"text","text":"Hi=371.16","align":"left","baseline":"middle","fontSize":11,"color":"#aab4be"},"encoding":{"x":{"datum":87.79},"y":{"datum":372.053}}},
{"data":{"values":[{}]},"mark":{"type":"text","text":"Lo=368.87","align":"left","baseline":"middle","fontSize":11,"color":"#aab4be"},"encoding":{"x":{"datum":101.66},"y":{"datum":372.053}}},
{"data":{"values":[{}]},"mark":{"type":"text","text":"V=58,420,51 ...","align":"left","baseline":"middle","fontSize":11,"color":"#aab4be"},"encoding":{"x":{"datum":116.31},"y":{"datum":372.053}}},
{"data":{"values":[{}]},"mark":{"type":"text","text":"Volume Avg (50,50,GREEN,Red)","align":"left","baseline":"middle","fontSize":11.5,"color":"#a8b4c0"},"encoding":{"x":{"datum":-8.04},"y":{"datum":364.093}}},
{"data":{"values":[{}]},"mark":{"type":"text","text":"0.00","align":"left","baseline":"middle","fontSize":11.5,"color":"#ff1a1a"},"encoding":{"x":{"datum":35.8},"y":{"datum":364.093}}},
{"data":{"values":[{}]},"mark":{"type":"text","text":"867913.30","align":"left","baseline":"middle","fontSize":11.5,"color":"#ffff00"},"encoding":{"x":{"datum":42.46},"y":{"datum":364.093}}},
{"data":{"values":[{}]},"mark":{"type":"rect","color":"#00e400"},"encoding":{"x":{"datum":135.93},"x2":{"datum":150.25},"y":{"datum":370.36},"y2":{"datum":369.96}}},
{"data":{"values":[{}]},"mark":{"type":"point","shape":"M1,-2.5L-1,0L1,2.5Z","filled":true,"opacity":1,"color":"#00e400","size":36},"encoding":{"x":{"datum":135.3},"y":{"datum":370.16}}},
{"data":{"values":[{}]},"mark":{"type":"text","text":"370.17","align":"left","baseline":"middle","fontSize":11.5,"color":"#000000"},"encoding":{"x":{"datum":136.68},"y":{"datum":370.16}}},
{"data":{"values":[{}]},"mark":{"type":"rect","color":"#ff1010"},"encoding":{"x":{"datum":135.93},"x2":{"datum":150.25},"y":{"datum":363.907},"y2":{"datum":363.56}}},
{"data":{"values":[{}]},"mark":{"type":"point","shape":"M1,-2.2L-1,0L1,2.2Z","filled":true,"opacity":1,"color":"#ff1010","size":36},"encoding":{"x":{"datum":135.3},"y":{"datum":363.733}}},
{"data":{"values":[{}]},"mark":{"type":"text","text":"0","align":"left","baseline":"middle","fontSize":11.5,"fontWeight":"bold","color":"#000000"},"encoding":{"x":{"datum":136.18},"y":{"datum":363.733}}},
{"data":{"values":[{}]},"mark":{"type":"text","text":"67,913","align":"left","baseline":"middle","fontSize":11.5,"color":"#d80000"},"encoding":{"x":{"datum":137.69},"y":{"datum":363.733}}}
]},
{"layer":[
{"data":{"name":"spy"},"mark":{"type":"bar","size":3},"encoding":{"x":{"field":"i","type":"quantitative","title":null},"y":{"field":"v","type":"quantitative","title":null,"axis":null,"scale":{"domain":[-9200,128800],"nice":false,"zero":false}},"y2":{"datum":0},"color":{"condition":{"test":"datum.c >= datum.o","value":"#2cf52c"},"value":"#ff3c3c"}}},
{"data":{"name":"spyVA"},"mark":{"type":"line","color":"#ffff00","strokeWidth":1,"strokeDash":[4,3]},"encoding":{"x":{"field":"i","type":"quantitative","title":null},"y":{"field":"a","type":"quantitative","title":null,"axis":null}}}
]}
]
},
{
"width":1,"height":345,
"view":{"fill":"#5b6470","stroke":null},
"data":{"values":[{}]},
"mark":{"type":"point","opacity":0,"size":0},
"encoding":{}
},
{
"width":654,"height":345,
"resolve":{"scale":{"y":"independent"}},
"layer":[
{"layer":[
{"data":{"values":[{}]},"mark":{"type":"text","text":"QQQ, 5Min","align":"center","baseline":"middle","fontSize":38,"fontWeight":"bold","color":"#2a2a2a"},"encoding":{"x":{"datum":95.05},"y":{"datum":308.135}}},
{"data":{"values":[{}]},"mark":{"type":"text","text":"Invesco QQQ Trust Series 1","align":"center","baseline":"middle","fontSize":21,"fontWeight":"bold","color":"#2a2a2a"},"encoding":{"x":{"datum":95.38},"y":{"datum":307.487}}},
{"data":{"name":"qqqB"},"mark":{"type":"line","color":"#1414ff","strokeWidth":3.8},"encoding":{
"x":{"field":"i","type":"quantitative","title":null,"scale":{"domain":[-3.445,215.284],"nice":false,"zero":false},
"axis":{"orient":"bottom","offset":-15,"values":[0,22,46,70,94,118,142,166],"labelExpr":"datum.value == 0 ? '' : (datum.value < 70 ? '0' : '') + (6 + (datum.value - 22) / 12) + ':00'","grid":true,"gridColor":{"condition":{"test":"datum.value == 0","value":"#6a6a6a"},"value":"#2e2e2e"},"gridDash":{"condition":{"test":"datum.value == 0","value":[4,3]},"value":[]},"domain":false,"ticks":false,"labelColor":"#c4cbd3","labelFontSize":10.5,"labelFontWeight":"bold","labelPadding":3,"labelFlush":false,"labelOverlap":false,"title":null}},
"y":{"field":"p","type":"quantitative","title":null,"scale":{"domain":[304.591,310.4685],"nice":false,"zero":false},
"axis":{"orient":"right","offset":-63,"values":[306,306.5,307,307.5,308,308.5,309,309.5,310],"format":".2f","grid":true,"gridColor":"#2e2e2e","domain":true,"domainColor":"#7a7a7a","ticks":true,"tickColor":"#9a9a9a","tickSize":5,"labelColor":"#b7c4d3","labelFontSize":11,"labelFontWeight":"bold","labelPadding":1,"labelOverlap":false,"labelSeparation":0,"title":null}}}},
{"data":{"name":"qqqM"},"mark":{"type":"line","color":"#d400d4","strokeWidth":2.4},"encoding":{"x":{"field":"i","type":"quantitative","title":null},"y":{"field":"p","type":"quantitative","title":null}}},
{"data":{"name":"qqqW"},"mark":{"type":"line","color":"#ffffff","strokeWidth":2.2,"interpolate":"monotone"},"encoding":{"x":{"field":"i","type":"quantitative","title":null},"y":{"field":"p","type":"quantitative","title":null}}},
{"data":{"name":"qqq"},"mark":{"type":"rule","color":"#a8a8a8","strokeWidth":1},"encoding":{"x":{"field":"i","type":"quantitative","title":null},"y":{"field":"l","type":"quantitative","title":null},"y2":{"field":"h"}}},
{"data":{"name":"qqq"},"mark":{"type":"bar","size":2.2},"encoding":{"x":{"field":"i","type":"quantitative","title":null},"y":{"field":"o","type":"quantitative","title":null},"y2":{"field":"c"},"color":{"condition":{"test":"datum.c >= datum.o","value":"#2cf52c"},"value":"#ff3c3c"}}},
{"data":{"values":[{}]},"mark":{"type":"text","text":"QQQ - 5 min","align":"left","baseline":"middle","fontSize":11,"color":"#1eea1e"},"encoding":{"x":{"datum":-2.98},"y":{"datum":310.2555}}},
{"data":{"values":[{}]},"mark":{"type":"text","text":"NASDAQ","align":"left","baseline":"middle","fontSize":11,"color":"#1eea1e"},"encoding":{"x":{"datum":20.3},"y":{"datum":310.2555}}},
{"data":{"values":[{}]},"mark":{"type":"text","text":"L=309.19","align":"left","baseline":"middle","fontSize":11,"color":"#1eea1e"},"encoding":{"x":{"datum":37.26},"y":{"datum":310.2555}}},
{"data":{"values":[{}]},"mark":{"type":"text","text":"1.90","align":"left","baseline":"middle","fontSize":11,"color":"#1eea1e"},"encoding":{"x":{"datum":55.59},"y":{"datum":310.2555}}},
{"data":{"values":[{}]},"mark":{"type":"text","text":"0.62%","align":"left","baseline":"middle","fontSize":11,"color":"#1eea1e"},"encoding":{"x":{"datum":63.38},"y":{"datum":310.2555}}},
{"data":{"values":[{}]},"mark":{"type":"text","text":"B=309.20","align":"left","baseline":"middle","fontSize":11,"color":"#aab4be"},"encoding":{"x":{"datum":76.05},"y":{"datum":310.2555}}},
{"data":{"values":[{}]},"mark":{"type":"text","text":"A=309.22","align":"left","baseline":"middle","fontSize":11,"color":"#aab4be"},"encoding":{"x":{"datum":93.01},"y":{"datum":310.2555}}},
{"data":{"values":[{}]},"mark":{"type":"text","text":"O=307.70","align":"left","baseline":"middle","fontSize":11,"color":"#1eea1e"},"encoding":{"x":{"datum":111.34},"y":{"datum":310.2555}}},
{"data":{"values":[{}]},"mark":{"type":"text","text":"Hi=309.79","align":"left","baseline":"middle","fontSize":11,"color":"#aab4be"},"encoding":{"x":{"datum":129.0},"y":{"datum":310.2555}}},
{"data":{"values":[{}]},"mark":{"type":"text","text":"Lo=306.62","align":"left","baseline":"middle","fontSize":11,"color":"#aab4be"},"encoding":{"x":{"datum":147.32},"y":{"datum":310.2555}}},
{"data":{"values":[{}]},"mark":{"type":"text","text":"V=25,461,890 ...","align":"left","baseline":"middle","fontSize":11,"color":"#aab4be"},"encoding":{"x":{"datum":167.09},"y":{"datum":310.2555}}},
{"data":{"values":[{}]},"mark":{"type":"text","text":"Volume Avg (50,50,GREEN,Red)","align":"left","baseline":"middle","fontSize":11.5,"color":"#a8b4c0"},"encoding":{"x":{"datum":-2.98},"y":{"datum":305.17}}},
{"data":{"values":[{}]},"mark":{"type":"text","text":"5425.00","align":"left","baseline":"middle","fontSize":11.5,"color":"#ff1a1a"},"encoding":{"x":{"datum":55.59},"y":{"datum":305.17}}},
{"data":{"values":[{}]},"mark":{"type":"text","text":"78565.70","align":"left","baseline":"middle","fontSize":11.5,"color":"#ffff00"},"encoding":{"x":{"datum":70.8},"y":{"datum":305.17}}},
{"data":{"values":[{}]},"mark":{"type":"rect","color":"#ff1010"},"encoding":{"x":{"datum":195.54},"x2":{"datum":213.6},"y":{"datum":309.327},"y2":{"datum":309.072}}},
{"data":{"values":[{}]},"mark":{"type":"point","shape":"M1,-2.5L-1,0L1,2.5Z","filled":true,"opacity":1,"color":"#ff1010","size":36},"encoding":{"x":{"datum":194.54},"y":{"datum":309.199}}},
{"data":{"values":[{}]},"mark":{"type":"text","text":"309.19","align":"left","baseline":"middle","fontSize":11.5,"color":"#200000"},"encoding":{"x":{"datum":196.2},"y":{"datum":309.199}}},
{"data":{"values":[{}]},"mark":{"type":"rect","color":"#ff1010"},"encoding":{"x":{"datum":195.54},"x2":{"datum":213.6},"y":{"datum":305.051},"y2":{"datum":304.796}}},
{"data":{"values":[{}]},"mark":{"type":"point","shape":"M1,-2.5L-1,0L1,2.5Z","filled":true,"opacity":1,"color":"#ff1010","size":36},"encoding":{"x":{"datum":194.54},"y":{"datum":304.923}}},
{"data":{"values":[{}]},"mark":{"type":"text","text":"5,425","align":"left","baseline":"middle","fontSize":11.5,"color":"#000000"},"encoding":{"x":{"datum":195.88},"y":{"datum":304.923}}},
{"data":{"values":[{}]},"mark":{"type":"text","text":"6","align":"left","baseline":"middle","fontSize":11.5,"color":"#c00000"},"encoding":{"x":{"datum":205.5},"y":{"datum":304.923}}}
]},
{"layer":[
{"data":{"name":"qqq"},"mark":{"type":"bar","size":2.2},"encoding":{"x":{"field":"i","type":"quantitative","title":null},"y":{"field":"v","type":"quantitative","title":null,"axis":null,"scale":{"domain":[-660,9690],"nice":false,"zero":false}},"y2":{"datum":0},"color":{"condition":{"test":"datum.c >= datum.o","value":"#2cf52c"},"value":"#ff3c3c"}}},
{"data":{"name":"qqqVA"},"mark":{"type":"line","color":"#ffff00","strokeWidth":1,"strokeDash":[4,3]},"encoding":{"x":{"field":"i","type":"quantitative","title":null},"y":{"field":"a","type":"quantitative","title":null,"axis":null}}}
]}
]
}
]
}
